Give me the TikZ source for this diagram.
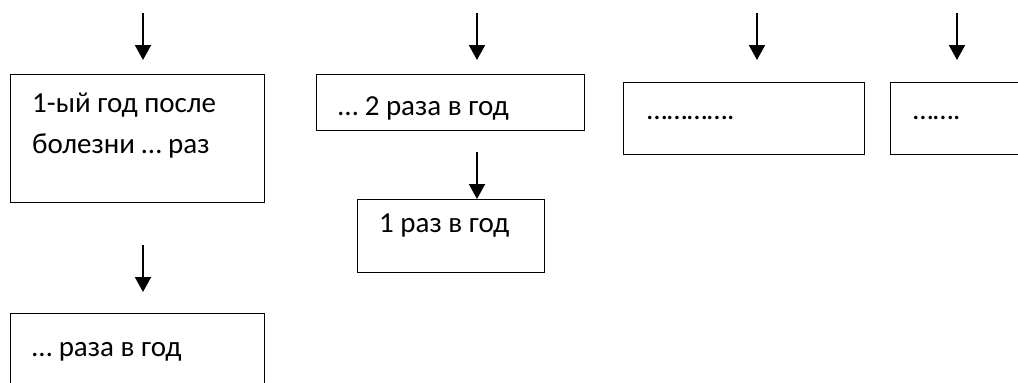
\documentclass[tikz,border=0pt]{standalone}
\usepackage{fontspec}
\setmainfont{Carlito}
\usetikzlibrary{arrows.meta}
\begin{document}
\begin{tikzpicture}[x=1pt,y=-1pt,
  box/.style={draw=black,line width=1.3pt,rectangle,inner sep=0pt,anchor=north west},
  txt/.style={anchor=base west,inner sep=0pt,font=\fontsize{29}{40}\selectfont},
  arr/.style={line width=2pt,-{Triangle[width=16pt,length=15pt]}}]
\useasboundingbox (0,0) rectangle (1018,383);
\clip (0,0) rectangle (1018,383);
% boxes
\node[box,minimum width=254pt,minimum height=128pt] (b1) at (10,74) {};
\node[box,minimum width=268pt,minimum height=56pt] (b2) at (316,74) {};
\node[box,minimum width=187pt,minimum height=73pt] (b3) at (357,199) {};
\node[box,minimum width=241pt,minimum height=72pt] (b4) at (623,82) {};
\node[box,minimum width=150pt,minimum height=72pt] (b5) at (890,82) {};
\node[box,minimum width=254pt,minimum height=100pt] (b6) at (10,313) {};
% texts
\node[txt] (t1a) at (32,112) {1-ый год после};
\node[txt] (t1b) at (32,153) {болезни … раз};
\node[txt] (t2) at (338,115) {… 2 раза в год};
\node[txt] (t3) at (379,232) {1 раз в год};
\node[txt] (t4) at (647,119) {………….};
\node[txt] (t5) at (913,119) {…….};
\node[txt] (t6) at (32,356) {… раза в год};
% arrow starts
\coordinate (a1) at (143,13);
\coordinate (a2) at (477,13);
\coordinate (a3) at (477,152);
\coordinate (a4) at (757,13);
\coordinate (a5) at (957,13);
\coordinate (a6) at (143,245);
\draw[arr,shorten >=14pt] (a1) -- (a1 |- b1.north);
\draw[arr,shorten >=14pt] (a2) -- (a2 |- b2.north);
\draw[arr] (a3) -- (a3 |- b3.north);
\draw[arr,shorten >=22pt] (a4) -- (a4 |- b4.north);
\draw[arr,shorten >=22pt] (a5) -- (a5 |- b5.north);
\draw[arr,shorten >=21pt] (a6) -- (a6 |- b6.north);
\end{tikzpicture}
\end{document}
